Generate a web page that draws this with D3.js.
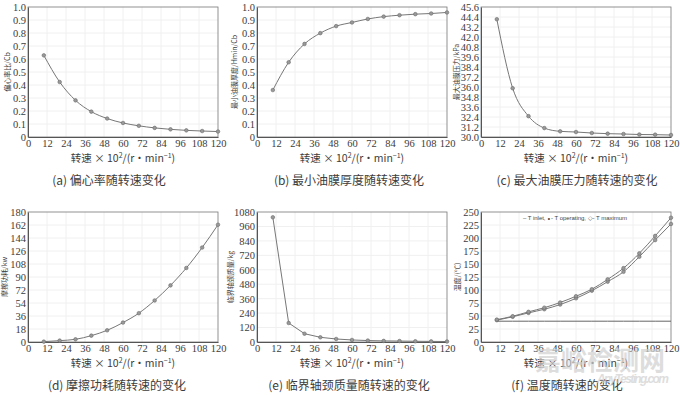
<!DOCTYPE html>
<html>
<head>
<meta charset="utf-8">
<script src="https://cdn.jsdelivr.net/npm/d3@7"></script>
<style>
  body { margin: 0; background: #fff; }
  .tick text { font-family: "Liberation Serif", serif; font-size: 10.5px; fill: #3c3c3c; }
  .cjk { font-family: "Noto Sans CJK SC", sans-serif; fill: #3c3c3c; }
</style>
</head>
<body>
<div id="chart"></div>
<script>
// define svg area
var svgWidth = 680;
var svgHeight = 395;

// shared x values (rotating speed x 10^2 r/min)
var speeds = [10, 20, 30, 40, 50, 60, 70, 80, 90, 100, 110, 120];
var xTicks = [0, 12, 24, 36, 48, 60, 72, 84, 96, 108, 120];

// series
var eccentricity = [0.628, 0.423, 0.282, 0.195, 0.142, 0.108, 0.086, 0.07, 0.059, 0.051, 0.046, 0.042];
var minFilm = [0.361, 0.575, 0.716, 0.799, 0.853, 0.881, 0.908, 0.926, 0.937, 0.945, 0.95, 0.958];
var maxPressure = [44.13, 35.85, 32.5, 31.07, 30.68, 30.6, 30.48, 30.4, 30.36, 30.3, 30.28, 30.24];
var frictionPower = [0.5, 1.9, 3.7, 8.8, 16.2, 26.9, 39.9, 57.5, 78.4, 102.5, 130.8, 162.4];
var criticalMass = [1036, 158, 69, 39, 25, 17, 12, 9, 8, 6, 5, 4];
var tempInlet = [40, 40, 40, 40, 40, 40, 40, 40, 40, 40, 40, 40];
var tempOperating = [42, 48.5, 56, 63, 72, 84, 98.6, 116, 135, 164, 196, 227];
var tempMaximum = [43, 49.5, 58, 66, 76, 88, 101.5, 120.5, 142, 170.5, 204, 239];

// y tick labels
var yTicksA = [0, 0.1, 0.2, 0.3, 0.4, 0.5, 0.6, 0.7, 0.8, 0.9, 1.0];
var yTicksC = [30.0, 31.2, 32.4, 33.6, 34.8, 36.0, 37.2, 38.4, 39.6, 40.8, 42.0, 43.2, 44.4, 45.6];
var yTicksD = [0, 18, 36, 54, 72, 90, 108, 126, 144, 162, 180];
var yTicksE = [0, 120, 240, 360, 480, 600, 720, 840, 960, 1080];
var yTicksF = [0, 25, 50, 75, 100, 125, 150, 175, 200, 225, 250];

var captions = ["(a)  偏心率随转速变化", "(b)  最小油膜厚度随转速变化", "(c)  最大油膜压力随转速的变化",
  "(d)  摩擦功耗随转速的变化", "(e)  临界轴颈质量随转速的变化", "(f)  温度随转速的变化"];
var yLabels = ["偏心率比/Cb", "最小油膜厚度/Hmin/Cb", "最大油膜压力/kPa", "摩擦功耗/kw", "临界轴颈质量/kg", "温度/(℃)"];

var svg = d3.select("#chart")
  .append("svg")
  .attr("width", svgWidth)
  .attr("height", svgHeight);

// panel frames
var colLeft = [28, 257, 481];
var rowTop = [7, 212];
var plotW = 190;
var plotH = 130;
var captionX = [109, 349, 577, 117, 349, 567];
// y label baseline offset from the plot's left edge
var yLabelOffset = [-18, -20, -22, -21, -24, -21];

var panels = [
  { series: [eccentricity], ticks: yTicksA, fmt: d => d === 0 ? "0" : d3.format(".1f")(d), curve: d3.curveMonotoneX },
  { series: [minFilm], ticks: yTicksA, fmt: d => d === 0 ? "0" : d3.format(".1f")(d), curve: d3.curveMonotoneX },
  { series: [maxPressure], ticks: yTicksC, fmt: d3.format(".1f"), curve: d3.curveMonotoneX },
  { series: [frictionPower], ticks: yTicksD, fmt: d3.format("d"), curve: d3.curveMonotoneX },
  { series: [criticalMass], ticks: yTicksE, fmt: d3.format("d"), curve: d3.curveLinear },
  { series: [tempOperating, tempMaximum], ticks: yTicksF, fmt: d3.format("d"), curve: d3.curveMonotoneX }
];

panels.forEach(function(p, i) {
  var left = colLeft[i % 3];
  var top = rowTop[Math.floor(i / 3)];
  var g = svg.append("g").attr("transform", `translate(${left}, ${top})`);

  var x = d3.scaleLinear().domain([0, 120]).range([0, plotW]);
  var y = d3.scaleLinear().domain(d3.extent(p.ticks)).range([plotH, 0]);

  // faint grid
  g.append("g").selectAll("line").data(xTicks.slice(1, -1)).enter().append("line")
    .attr("x1", d => x(d)).attr("x2", d => x(d)).attr("y1", 0).attr("y2", plotH)
    .attr("stroke", "#f0f0f0");
  g.append("g").selectAll("line").data(p.ticks.slice(1, -1)).enter().append("line")
    .attr("y1", d => y(d)).attr("y2", d => y(d)).attr("x1", 0).attr("x2", plotW)
    .attr("stroke", "#f0f0f0");

  // box
  g.append("rect").attr("width", plotW).attr("height", plotH)
    .attr("fill", "none").attr("stroke", "#777").attr("stroke-width", 0.8);

  // axes
  var xAxis = g.append("g").attr("transform", `translate(0, ${plotH})`)
    .call(d3.axisBottom(x).tickValues(xTicks).tickSize(0).tickPadding(3));
  var yAxis = g.append("g")
    .call(d3.axisLeft(y).tickValues(p.ticks).tickFormat(p.fmt).tickSize(0).tickPadding(2));
  [xAxis, yAxis].forEach(a => a.select(".domain").attr("stroke", "#555"));

  // inlet temperature line + legend note (panel f)
  if (i === 5) {
    g.append("path").datum(tempInlet)
      .attr("d", d3.line().x((d, k) => x(speeds[k])).y(d => y(d)))
      .attr("fill", "none").attr("stroke", "#666").attr("stroke-width", 1);
    g.append("text")
      .attr("x", 42).attr("y", 8)
      .attr("font-family", "Liberation Sans, sans-serif")
      .attr("font-size", 6).attr("fill", "#444")
      .attr("textLength", 104)
      .text("– T inlet, ∘- T operating, ◇- T maximum");
  }

  p.series.forEach(function(vals) {
    g.append("path").datum(vals)
      .attr("d", d3.line().x((d, k) => x(speeds[k])).y(d => y(d)).curve(p.curve))
      .attr("fill", "none").attr("stroke", "#777").attr("stroke-width", 1);
    g.append("g").selectAll("circle").data(vals).enter().append("circle")
      .attr("cx", (d, k) => x(speeds[k]))
      .attr("cy", d => y(d))
      .attr("r", 1.8)
      .attr("fill", "#999").attr("stroke", "#6a6a6a").attr("stroke-width", 0.6);
  });

  // y axis label
  g.append("text").attr("class", "cjk")
    .attr("transform", `translate(${yLabelOffset[i]}, ${plotH / 2}) rotate(-90)`)
    .attr("text-anchor", "middle")
    .attr("font-size", 7)
    .text(yLabels[i]);

  // x axis label
  var xl = g.append("text").attr("class", "cjk")
    .attr("x", plotW / 2).attr("y", plotH + 25)
    .attr("text-anchor", "middle")
    .attr("font-size", 10.5);
  xl.append("tspan").text("转速 × 10");
  xl.append("tspan").attr("font-size", 7).attr("dy", -4).text("2");
  xl.append("tspan").attr("dy", 4).text("/(r·min");
  xl.append("tspan").attr("font-size", 7).attr("dy", -4).text("−1");
  xl.append("tspan").attr("dy", 4).text(")");

  // caption
  svg.append("text").attr("class", "cjk")
    .attr("x", captionX[i]).attr("y", top + plotH + 48)
    .attr("text-anchor", "middle")
    .attr("font-size", 12)
    .text(captions[i]);
});

// watermark
svg.append("text")
  .attr("x", 535).attr("y", 370)
  .attr("font-family", "Noto Sans CJK SC, sans-serif")
  .attr("font-size", 26).attr("font-weight", "bold")
  .attr("fill", "#d0d0d0").attr("opacity", 0.7)
  .text("嘉峪检测网");
svg.append("text")
  .attr("x", 597).attr("y", 383)
  .attr("font-family", "Liberation Sans, sans-serif")
  .attr("font-size", 12).attr("font-style", "italic").attr("font-weight", "bold")
  .attr("textLength", 72)
  .attr("fill", "#d0d0d0").attr("opacity", 0.7)
  .text("AnyTesting.com");
</script>
</body>
</html>
